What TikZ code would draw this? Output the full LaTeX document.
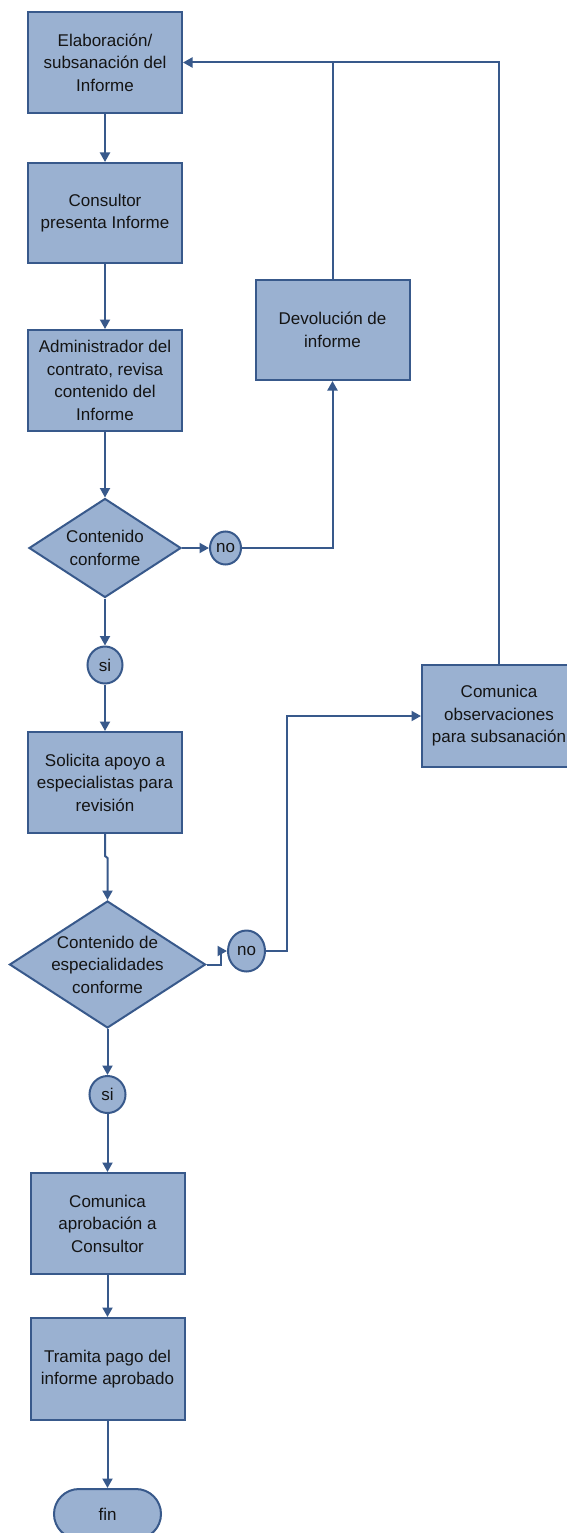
\documentclass[tikz,border=0pt]{standalone}
\usepackage{fontspec}
\setmainfont{Liberation Sans}
\usetikzlibrary{arrows.meta,shapes.geometric,calc}
\definecolor{boxfill}{HTML}{9AB1D1}
\definecolor{boxline}{HTML}{38598B}
\definecolor{txt}{HTML}{141414}

\begin{document}
\begin{tikzpicture}[x=1pt,y=-1pt,
  lbl/.style={text=txt, align=center, font=\fontsize{17}{22.5}\selectfont},
  proc/.style={lbl, draw=boxline, fill=boxfill, line width=2pt,
    minimum width=154pt, minimum height=101pt, inner sep=0pt},
  decision/.style={draw=boxline, fill=boxfill, line width=2pt,
    shape=diamond, inner sep=0pt},
  answer/.style={lbl, draw=boxline, fill=boxfill, line width=2pt,
    shape=ellipse, inner sep=0pt},
  terminal/.style={lbl, draw=boxline, fill=boxfill, line width=2pt,
    rounded corners=25pt, minimum width=107pt, minimum height=50pt, inner sep=0pt},
  conn/.style={draw=boxline, line width=2pt, -{Triangle[length=9.5pt,width=10pt]}},
  plain/.style={draw=boxline, line width=2pt}]

\useasboundingbox (0,0) rectangle (567,1533);
\clip (0,0) rectangle (567,1533);

% main column
\node[proc] (b1) at (105,62.5) {Elaboración/\\subsanación del\\Informe};
\node[proc, minimum height=100pt] (b2) at (105,213) {Consultor\\presenta Informe};
\node[proc] (b3) at (105,380.5) {Administrador del\\contrato, revisa\\contenido del\\Informe};
\node[decision, minimum width=152pt, minimum height=99pt] (d1) at (105,548) {};
\node[lbl] (d1t) at (d1.center) {Contenido\\conforme};
\node[answer, minimum width=35pt, minimum height=37pt] (si1) at (105,665) {si};
\node[proc] (sol) at (105,782.5) {Solicita apoyo a\\especialistas para\\revisión};
\node[decision, minimum width=196pt, minimum height=127pt] (d2) at (107.5,964.5) {};
\node[lbl] (d2t) at (d2.center) {Contenido de\\especialidades\\conforme};
\node[answer, minimum width=36pt, minimum height=37pt] (si2) at (107.5,1094.5) {si};
\node[proc] (apr) at (107.5,1223.5) {Comunica\\aprobación a\\Consultor};
\node[proc, minimum height=102pt] (tra) at (107.5,1369) {Tramita pago del\\informe aprobado};
\node[terminal] (fin) at (107.5,1514) {fin};

% side branch
\node[answer, minimum width=31pt, minimum height=33pt] (no1) at (225.5,548) {no};
\node[proc, minimum height=100pt] (dev) at (332.5,330) {Devolución de\\informe};
\node[answer, minimum width=37pt, minimum height=41pt] (no2) at (246.5,951) {no};
\node[proc, minimum height=102pt] (com) at (499,716) {Comunica\\observaciones\\para subsanación};

% flow down the main column
\draw[conn] (b1) -- (b2);
\draw[conn] (b2) -- (b3);
\draw[conn] (b3) -- (d1);
\draw[conn] (d1) -- (si1);
\draw[conn] (si1) -- (sol);
\draw[conn] (sol.south) -- ++(0,22) -- ($(d2.north)+(0,-42)$) -- (d2.north);
\draw[conn] (d2) -- (si2);
\draw[conn] (si2) -- (apr);
\draw[conn] (apr) -- (tra);
\draw[conn] (tra) -- (fin);

% rejection loops
\draw[conn] (d1.east) -- (no1.west);
\draw[conn] (no1.east) -| (dev.south);
\draw[plain] (dev.north) -- (dev.north |- b1.east);
\draw[conn] (d2.east) -- ++(14,0) |- (no2.west);
\draw[conn] (no2.east) -- ++(21,0) |- (com.west);
\draw[conn] (com.north) |- (b1.east);
\end{tikzpicture}
\end{document}
